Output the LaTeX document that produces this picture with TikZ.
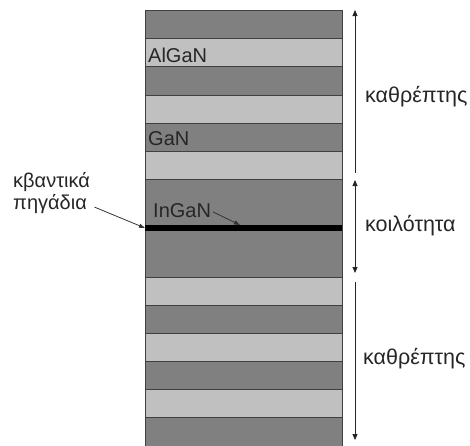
\documentclass[tikz,border=0pt]{standalone}
\usepackage{fontspec}
\setmainfont{Liberation Sans}
\usetikzlibrary{arrows.meta}
\definecolor{darkl}{HTML}{808080}
\definecolor{lightl}{HTML}{C0C0C0}
\definecolor{edgec}{HTML}{404040}
\begin{document}
\begin{tikzpicture}[x=1pt,y=-1pt,
  layerbox/.style={fill=#1, draw=edgec, line width=0.8pt},
  lbl/.style={font=\fontsize{20}{22}\selectfont, inner sep=0pt, anchor=west, text=black!85},
  rlbl/.style={lbl, font=\fontsize{21.5}{23}\selectfont},
  tip/.style={-{Triangle[length=6pt,width=5pt]}},
  dimline/.style={line width=0.9pt, draw=black!85},
  ptr/.style={line width=0.8pt, draw=black!80, -{Triangle[length=6pt,width=4pt]}}
]
\useasboundingbox (0,0) rectangle (470,445);
\foreach \a/\b/\c in {10/38/darkl, 38/66/lightl, 66/95/darkl, 95/123/lightl,
  123/151/darkl, 151/179/lightl, 179/277/darkl, 277/305/lightl, 305/333/darkl,
  333/361/lightl, 361/389/darkl, 389/417/lightl, 417/447/darkl}
  {\draw[layerbox=\c] (145,\a) rectangle (342,\b);}
% quantum well
\fill[black] (145,225) rectangle (342,231);
\coordinate (qw) at (145,228);
\coordinate (qwin) at (240,225);
% layer labels
\node[lbl] (algan) at (148,55) {AlGaN};
\node[lbl] (gan) at (148,139) {GaN};
\node[lbl] (ingan) at (153,211) {InGaN};
\node[lbl] (kv1) at (13,182) {κβαντικά};
\node[lbl] (kv2) at (13,204) {πηγάδια};
\draw[ptr, shorten <=8pt] (kv2.east) -- (qw);
\draw[ptr, shorten <=2pt] (ingan.east) -- (qwin);
% right dimension arrows
\coordinate (a1) at (355,10);
\coordinate (a2) at (355,173);
\coordinate (a3) at (355,180);
\coordinate (a4) at (355,273);
\coordinate (a5) at (355,282);
\coordinate (a6) at (355,440);
\draw[dimline, tip] (a2) -- (a1);
\draw[dimline, {Triangle[length=6pt,width=5pt]}-{Triangle[length=6pt,width=5pt]}] (a3) -- (a4);
\draw[dimline, tip] (a5) -- (a6);
\node[rlbl] (m1) at (365,97) {καθρέπτης};
\node[rlbl] (cav) at (365,226) {κοιλότητα};
\node[rlbl] (m2) at (363,359) {καθρέπτης};
\end{tikzpicture}
\end{document}
